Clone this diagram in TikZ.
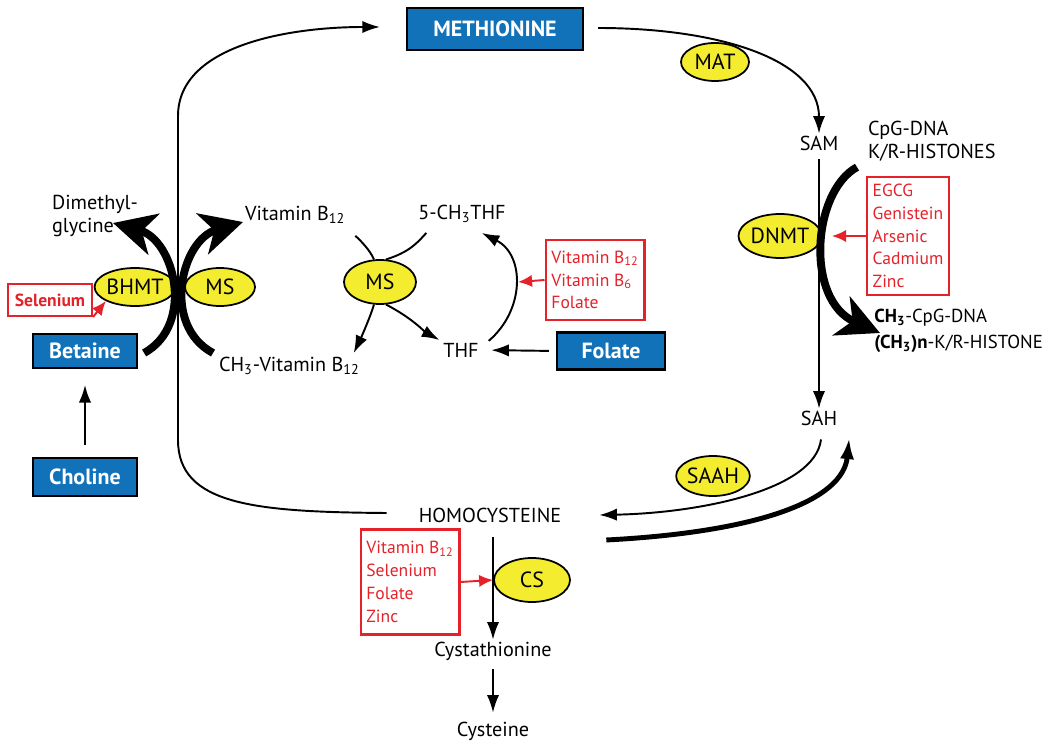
\documentclass[tikz,border=0pt]{standalone}
\usepackage{fontspec}
\setmainfont{PT Sans}
\usepackage{xcolor}
\usepackage{tikz}
\usetikzlibrary{calc}
\usetikzlibrary{arrows.meta}
\usetikzlibrary{shapes.geometric}

\definecolor{boxblue}{HTML}{1272B9}
\definecolor{enzyellow}{HTML}{F4EC2F}
\definecolor{inhred}{HTML}{E52129}

\tikzset{
 bluebox/.style={rectangle, draw=black, line width=1.3pt, fill=boxblue, text=white, font=\fontsize{12.5}{14}\selectfont\bfseries},
 enzyme/.style={ellipse, draw=black, line width=1pt, fill=enzyellow, inner sep=0pt, font=\fontsize{12.5}{14}\selectfont},
 redbox/.style={rectangle, draw=inhred, line width=1.2pt, text=inhred, align=left, font=\fontsize{10}{13}\selectfont},
 lbl/.style={inner sep=1pt, font=\fontsize{11.5}{13}\selectfont},
 flow/.style={-{Latex[length=10pt,width=7pt]}, line width=1.1pt},
 midflow/.style={-{Latex[length=12pt,width=8pt]}, line width=2.8pt},
 bigflow/.style={-{Stealth[length=24pt,width=24pt,inset=7pt]}, line width=4.5pt},
 redflow/.style={-{Latex[length=8pt,width=7pt]}, draw=inhred, line width=1.1pt}
}

\begin{document}
\begin{tikzpicture}[x=0.02cm, y=-0.02cm]
 \useasboundingbox (0,0) rectangle (1050,749);

 \node [bluebox, minimum width=3.52cm, minimum height=0.84cm] (met) at (495,29) {METHIONINE};
 \node [bluebox, minimum width=2.08cm, minimum height=0.68cm] (betaine) at (85,351) {Betaine};
 \node [bluebox, minimum width=2.08cm, minimum height=0.76cm] (choline) at (85,477) {Choline};
 \node [bluebox, minimum width=2.16cm, minimum height=0.74cm] (folate) at (611,351) {Folate};

 \node [lbl] (sam) at (819,143) {SAM};
 \node [lbl] (sah) at (819,418) {SAH};
 \node [lbl] (homo) at (490,515) {HOMOCYSTEINE};
 \node [lbl] (cysta) at (493,651) {Cystathionine};
 \node [lbl] (cys) at (493,731) {Cysteine};
 \node [lbl, anchor=west, align=left] (dmg) at (50,216) {Dimethyl-\\glycine};
 \node [lbl, anchor=west] (vb12) at (243,215) {Vitamin B\textsubscript{12}};
 \node [lbl, anchor=west] (ch3vb12) at (217,366) {CH\textsubscript{3}-Vitamin B\textsubscript{12}};
 \node [lbl] (methf) at (462,214) {5-CH\textsubscript{3}THF};
 \node [lbl] (thf) at (461,350) {THF};
 \node [lbl, anchor=west, align=left] (cpg) at (866,141) {CpG-DNA\\K/R-HISTONES};
 \node [lbl, anchor=west, align=left, inner sep=0pt, font=\fontsize{10.7}{14.5}\selectfont] (ch3cpg) at (874,331) {\textbf{CH\textsubscript{3}}-CpG-DNA\\\textbf{(CH\textsubscript{3})n}-K/R-HISTONE};

 \node [enzyme, minimum width=1.36cm, minimum height=0.76cm] (mat) at (715,62) {MAT};
 \node [enzyme, minimum width=1.52cm, minimum height=0.88cm] (dnmt) at (780,236) {DNMT};
 \node [enzyme, minimum width=1.36cm, minimum height=0.8cm] (saah) at (713,476) {SAAH};
 \node [enzyme, minimum width=1.52cm, minimum height=0.88cm] (cs) at (532,580) {CS};
 \node [enzyme, minimum width=1.48cm, minimum height=0.76cm] (bhmt) at (135,287) {BHMT};
 \node [enzyme, minimum width=1.4cm, minimum height=0.76cm] (msl) at (220,287) {MS};
 \node [enzyme, minimum width=1.44cm, minimum height=0.88cm] (msm) at (380,282) {MS};

 \node [redbox, minimum width=1.68cm, minimum height=0.64cm, font=\fontsize{10}{13}\selectfont\bfseries] (selbox) at (50,300) {Selenium};
 \node [redbox, minimum width=1.8cm, minimum height=1.6cm] (redmid) at (595,280) {Vitamin B\textsubscript{12}\\Vitamin B\textsubscript{6}\\Folate};
 \node [redbox, minimum width=1.64cm, minimum height=2.36cm] (reddnmt) at (908,236) {EGCG\\Genistein\\Arsenic\\Cadmium\\Zinc};
 \node [redbox, minimum width=1.9cm, minimum height=2.1cm] (redcs) at (410,582) {Vitamin B\textsubscript{12}\\Selenium\\Folate\\Zinc};

 \coordinate (thfarc) at (518,282);
 \coordinate (dnmtarc) at (832,236);

 \draw [flow] ($(homo.west)+(-30,-2)$) .. controls (255,512) and (178,505) .. (178,440) -- (178,116) .. controls (178,45) and (290,27) .. ($(met.west)+(-26,-2)$);
 \draw [flow] ($(met.east)+(14,-1)$) .. controls (720,28) and (819,60) .. (sam.north);
 \draw [flow, shorten <=4pt] (sam.south) -- (sah.north);
 \draw [bigflow] ($(cpg.south west)+(-9,4)$) .. controls (812,192) and (805,300) .. ($(ch3cpg.west)+(6,2)$);
 \draw [redflow] (reddnmt.west) -- (dnmtarc);
 \draw [flow] ($(sah.south)+(2,12)$) .. controls (815,490) and (700,513) .. ($(homo.east)+(36,0)$);
 \draw [midflow] ($(homo.east)+(43,25)$) .. controls (760,532) and (843,500) .. ($(sah.east)+(10,20)$);
 \draw [flow, shorten <=7pt] (homo.south -| cysta.north) -- (cysta.north);
 \draw [flow, shorten <=4pt, shorten >=4pt] (cysta.south) -- (cys.north);
 \draw [redflow] (redcs.east) -- (cs.west);

 \draw [bigflow] ($(betaine.east)+(6,2)$) .. controls (195,325) and (175,240) .. ($(dmg.west)+(63,7)$);
 \draw [bigflow] ($(ch3vb12.north west)+(-4,-2)$) .. controls (161,325) and (181,240) .. ($(vb12.west)+(0,7)$);
 \draw [redflow] (selbox.south east) -- (bhmt.south west);
 \draw [flow, shorten <=7pt, shorten >=9pt] (choline.north) -- (betaine.south);

 \draw [line width=1.1pt] ($(vb12.south east)+(8,10)$) .. controls (360,240) and (370,250) .. (msm.105);
 \draw [flow] (msm.255) .. controls (370,318) and (360,340) .. ($(ch3vb12.north east)+(-8,-2)$);
 \draw [line width=1.1pt] ($(methf.south west)+(10,8)$) .. controls (418,242) and (410,252) .. (msm.75);
 \draw [flow] (msm.285) .. controls (412,318) and (425,332) .. ($(thf.west)+(-2,-10)$);
 \draw [flow] ($(thf.north east)+(8,0)$) .. controls (525,310) and (525,255) .. ($(methf.south east)+(-26,8)$);
 \draw [redflow] (redmid.west) -- (thfarc);
 \draw [flow, shorten <=4pt, shorten >=6pt] (folate.west) -- (thf.east);
\end{tikzpicture}
\end{document}
